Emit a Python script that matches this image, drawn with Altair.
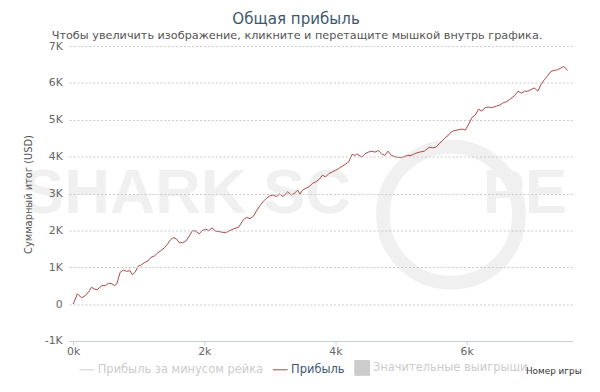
import altair as alt
import pandas as pd

TITLE = "Общая прибыль"
SUBTITLE = "Чтобы увеличить изображение, кликните и перетащите мышкой внутрь графика."
Y_TITLE = "Суммарный итог (USD)"
X_TITLE = "Номер игры"
SERIES = ["Прибыль за минусом рейка", "Прибыль", "Значительные выигрыши"]
SERIES_COLORS = ["#cccccc", "#AA4643", "#cccccc"]

games = [
    0, 15, 65, 90, 131, 191, 251, 281, 316, 365,
    441, 492, 541, 591, 632, 666, 717, 767, 817, 868,
    902, 943, 993, 1042, 1093, 1143, 1184, 1244, 1293, 1334,
    1394, 1444, 1469, 1519, 1569, 1620, 1669, 1719, 1770, 1820,
    1869, 1921, 1970, 2020, 2071, 2121, 2170, 2245, 2321, 2372,
    2447, 2522, 2597, 2647, 2697, 2748, 2797, 2847, 2898, 2948,
    2998, 3049, 3098, 3148, 3199, 3249, 3274, 3324, 3374, 3425,
    3459, 3500, 3549, 3599, 3650, 3700, 3750, 3801, 3850, 3900,
    3951, 4001, 4050, 4101, 4151, 4201, 4252, 4301, 4327, 4402,
    4452, 4502, 4553, 4602, 4652, 4703, 4753, 4802, 4853, 4929,
    5004, 5053, 5103, 5154, 5204, 5279, 5354, 5429, 5479, 5530,
    5580, 5630, 5681, 5730, 5756, 5805, 5855, 5930, 5981, 6031,
    6081, 6132, 6181, 6231, 6282, 6332, 6382, 6457, 6508, 6557,
    6607, 6658, 6733, 6783, 6833, 6884, 6933, 6983, 7034, 7084,
    7134, 7185, 7234, 7284, 7335, 7385, 7434, 7475, 7510, 7535,
]
profit = [
    0, 59, 281, 236, 174, 236, 370, 461, 415, 389,
    504, 504, 568, 549, 504, 549, 863, 925, 890, 906,
    799, 863, 1024, 1067, 1131, 1174, 1265, 1308, 1399, 1442,
    1533, 1640, 1710, 1801, 1782, 1667, 1667, 1710, 1844, 1997,
    1978, 1908, 1997, 2031, 1997, 2069, 1978, 1962, 1935, 1978,
    2042, 2085, 2291, 2353, 2318, 2380, 2535, 2667, 2782, 2873,
    2935, 2961, 2916, 2988, 2916, 3007, 3050, 2961, 3007, 3095,
    2988, 3095, 3141, 3184, 3275, 3318, 3382, 3497, 3452, 3543,
    3586, 3631, 3677, 3739, 3792, 3854, 4060, 4033, 4079, 3988,
    4079, 4122, 4149, 4122, 4167, 4079, 4033, 4149, 4033, 3988,
    3972, 4007, 4033, 4033, 4079, 4122, 4149, 4256, 4240, 4256,
    4347, 4435, 4524, 4596, 4658, 4703, 4722, 4749, 4722, 4883,
    5060, 5132, 5285, 5239, 5328, 5347, 5328, 5373, 5400, 5462,
    5489, 5553, 5660, 5775, 5722, 5775, 5775, 5821, 5864, 5775,
    5955, 6089, 6196, 6311, 6338, 6357, 6400, 6445, 6400, 6338,
]
x_ticks = [0, 2000, 4000, 6000]
y_ticks = [-1000, 0, 1000, 2000, 3000, 4000, 5000, 6000, 7000]

FONT = "DejaVu Sans"
W, H = 510, 299

df = pd.DataFrame({"game": games, "profit": profit, "series": SERIES[1]})

legend = alt.Legend(
    orient="none", legendX=10, legendY=318, direction="horizontal", title=None,
    labelFont=FONT, labelFontSize=11.6, labelOffset=3, columnPadding=7, labelLimit=400,
    symbolSize=225, symbolStrokeWidth=1,
    symbolType={"expr": f"datum.value == '{SERIES[2]}' ? 'square' : 'stroke'"},
    symbolFillColor={"expr": f"datum.value == '{SERIES[2]}' ? '#cccccc' : 'transparent'"},
    labelColor={"expr": f"datum.value == '{SERIES[1]}' ? '#3E576F' : '#cccccc'"},
)

line = alt.Chart(df).mark_line(strokeWidth=1).encode(
    x=alt.X("game:Q", title=X_TITLE,
            scale=alt.Scale(domain=[-60, 7610], nice=False, zero=False),
            axis=alt.Axis(values=x_ticks, labelExpr="datum.value / 1000 + 'k'",
                          grid=False, domainColor="#C0D0E0", tickColor="#C0D0E0",
                          tickSize=4, labelPadding=1, labelFont=FONT, labelFontSize=11,
                          labelColor="#666666", titleFont=FONT, titleFontSize=9,
                          titleFontWeight="normal", titleColor="#333333",
                          titleAnchor="end", titleAlign="right", titleBaseline="middle",
                          titleX=519, titleY=30, zindex=1)),
    y=alt.Y("profit:Q", title=Y_TITLE,
            scale=alt.Scale(domain=[-1000, 7000], nice=False),
            axis=alt.Axis(values=y_ticks,
                          labelExpr="datum.value == 0 ? '0' : datum.value / 1000 + 'K'",
                          domain=False, ticks=False, tickSize=0, labelPadding=7,
                          gridColor="#C8C8C8", gridDash=[2, 2], labelFont=FONT,
                          labelFontSize=11, labelColor="#666666", titleFont=FONT,
                          titleFontSize=10, titleFontWeight="normal", titleColor="#555555",
                          titleX=-41, titleY=150, titleAlign="center",
                          titleBaseline="middle", zindex=1)),
    color=alt.Color("series:N", scale=alt.Scale(domain=SERIES, range=SERIES_COLORS),
                    legend=legend),
)

wm_color = "#f0f0f0"
def wm_text(t, x, size=64):
    return alt.Chart(pd.DataFrame({"t": [t]})).mark_text(
        font="Liberation Sans", fontWeight="bold", fontSize=size, color=wm_color,
        baseline="alphabetic", align="center").encode(
        text="t:N", x=alt.value(x), y=alt.value(169))

wm1 = wm_text("SHARK", 66)
wm2 = wm_text("SC", 241)
wm3 = wm_text("PE", 462)
ring = alt.Chart(pd.DataFrame({"r": [1]})).mark_point(
    shape="circle", filled=False, size=19000, strokeWidth=14, color=wm_color,
    opacity=1).encode(x=alt.value(387), y=alt.value(171))

title = alt.Chart(pd.DataFrame({"t": [TITLE]})).mark_text(
    font=FONT, fontSize=15.3, color="#3E576F", align="center", baseline="middle").encode(
    text="t:N", x=alt.value(230), y=alt.value(-27))
subtitle = alt.Chart(pd.DataFrame({"t": [SUBTITLE]})).mark_text(
    font=FONT, fontSize=11.4, color="#555555", align="center", baseline="middle").encode(
    text="t:N", x=alt.value(231), y=alt.value(-10))

chart = alt.layer(wm1, wm2, wm3, ring, line, title, subtitle).properties(
    width=W, height=H,
    autosize=alt.AutoSizeParams(type="none"),
    padding={"left": 62, "top": 36, "right": 20, "bottom": 40},
    background="white",
).configure_view(stroke=None)

chart.save("out.html", embed_options={"renderer": "svg", "actions": False})
